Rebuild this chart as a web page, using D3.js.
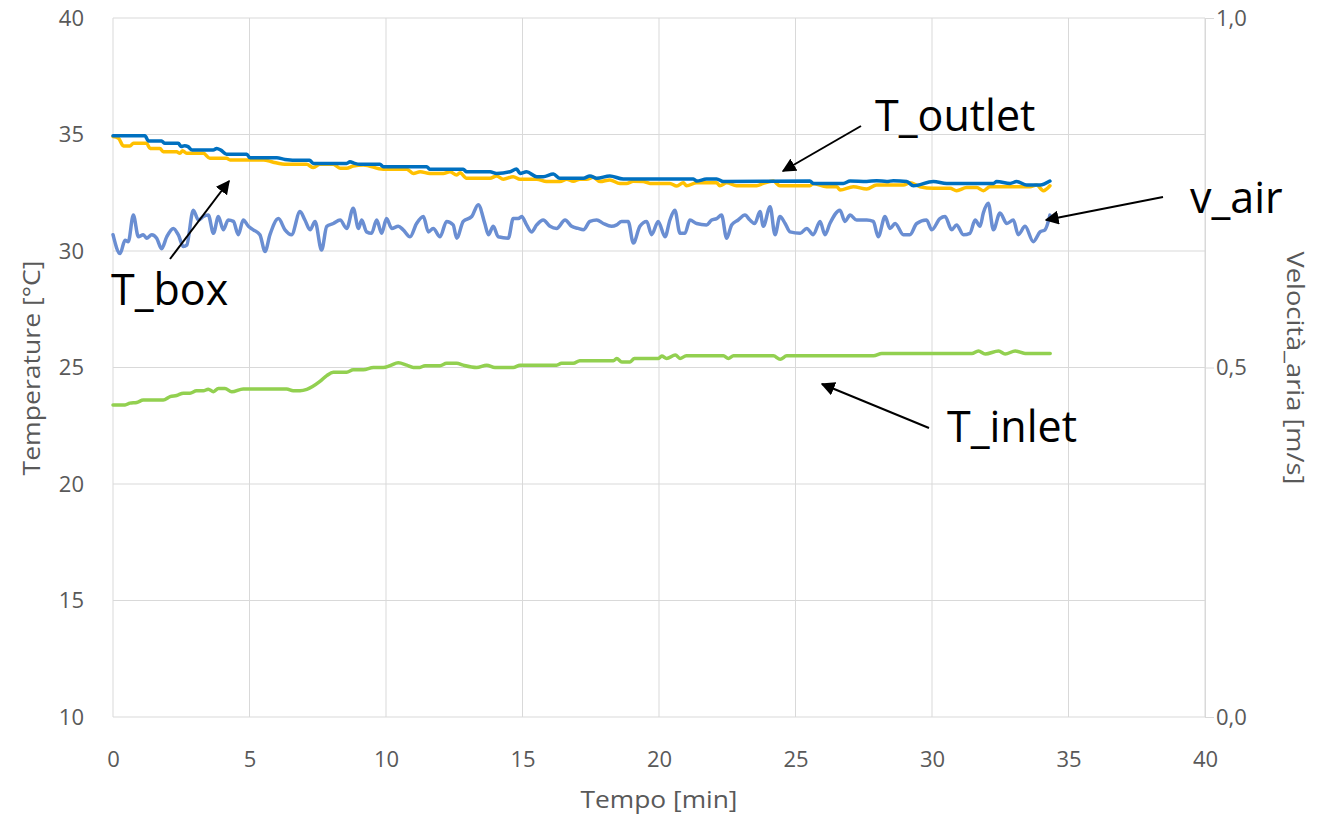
<!DOCTYPE html>
<html><head><meta charset="utf-8">
<script src="https://cdn.jsdelivr.net/npm/d3@7"></script>
<style>body{margin:0;background:#fff}svg{display:block}text{font-family:"Open Sans",Calibri,sans-serif}</style>
</head><body><svg id="c" width="1329" height="821"></svg>
<script>
const xTicks=[0,5,10,15,20,25,30,35,40];
const yLeftTicks=[10,15,20,25,30,35,40];
const yRightTicks=[0,0.5,1.0];

const outletTime=[0,1.17,1.3,1.78,1.9,2.39,2.5,2.62,2.75,2.9,3.67,3.8,3.95,4.16,4.9,5.02,6.0,6.3,6.85,7.2,7.34,8.56,8.68,8.85,9.05,9.78,9.9,11.49,11.6,12.83,12.95,13.81,14.05,14.54,14.78,14.91,15.15,15.52,15.76,16.13,16.37,17.23,17.47,17.72,18.2,18.69,21.26,21.38,21.74,22.11,22.36,25.53,25.65,26.75,27.0,27.61,27.97,28.34,28.58,29.07,29.32,30.05,30.54,32.25,32.37,32.86,33.1,33.47,33.96,34.32];
const outletT=[34.95,34.95,34.72,34.72,34.62,34.62,34.48,34.52,34.48,34.33,34.33,34.40,34.33,34.15,34.15,34.0,34.0,33.93,33.89,33.89,33.76,33.76,33.83,33.76,33.72,33.72,33.62,33.62,33.51,33.51,33.40,33.40,33.33,33.40,33.52,33.33,33.40,33.19,33.19,33.30,33.12,33.12,33.22,33.12,33.22,33.09,33.09,33.0,33.09,33.09,32.98,33.0,32.9,32.9,33.0,32.98,33.02,32.98,33.02,32.98,32.8,32.98,32.9,32.9,32.98,32.9,32.98,32.83,32.83,33.0];

const boxTime=[0,0.2,0.38,0.62,0.75,1.23,1.36,1.72,1.84,2.33,2.45,2.55,2.7,3.31,3.55,4.16,4.29,5.51,5.87,6.36,7.09,7.34,7.58,8.07,8.32,8.56,8.8,9.17,9.9,10.76,11.0,11.25,11.61,12.1,12.34,12.59,12.71,12.95,13.81,14.05,14.3,14.66,14.91,15.52,15.88,16.37,16.62,16.86,17.1,17.35,17.59,17.84,18.2,18.57,18.81,19.06,19.42,19.67,20.4,20.65,20.89,21.01,21.38,22.11,22.23,22.48,22.84,23.58,23.82,24.19,24.43,25.53,25.65,26.14,26.51,26.63,27.12,27.61,27.97,28.95,29.19,29.56,30.05,30.66,30.9,31.27,31.64,31.88,32.12,33.59,33.83,34.08,34.32];
const boxT=[34.91,34.84,34.51,34.51,34.62,34.62,34.40,34.40,34.26,34.26,34.19,34.30,34.19,34.19,33.98,33.98,33.91,33.91,33.81,33.72,33.72,33.58,33.72,33.72,33.55,33.55,33.65,33.69,33.51,33.51,33.33,33.40,33.33,33.33,33.40,33.26,33.36,33.12,33.12,33.22,33.08,33.19,33.08,33.08,32.98,32.98,33.08,32.99,33.08,33.08,33.16,32.98,33.05,32.90,32.90,32.99,32.98,32.90,32.90,32.79,32.93,32.8,32.93,32.93,32.8,32.93,32.8,32.8,32.90,33.0,32.8,32.8,32.9,32.76,32.76,32.62,32.76,32.66,32.83,32.83,32.93,32.76,32.69,32.69,32.59,32.72,32.72,32.59,32.76,32.76,32.83,32.59,32.8];

const inletTime=[0,0.44,0.62,0.87,1.11,1.84,2.09,2.33,2.58,2.82,3.06,3.31,3.49,3.68,3.86,4.1,4.35,4.77,6.36,6.6,6.85,7.1,7.58,7.83,8.07,8.56,8.8,9.17,9.54,9.9,10.15,10.45,10.76,11.0,11.24,11.43,11.98,12.22,12.59,12.83,13.32,13.69,13.99,14.66,14.91,16.25,16.43,16.86,17.1,18.33,18.45,18.64,18.94,19.1,19.98,20.1,20.28,20.6,20.77,21.0,22.36,22.54,22.73,24.19,24.44,24.68,27.86,28.16,31.46,31.7,31.95,32.44,32.68,33.05,33.41,34.33];
const inletT=[23.39,23.39,23.47,23.5,23.6,23.6,23.75,23.8,23.9,23.9,24.0,24.0,24.07,23.96,24.1,24.1,23.96,24.08,24.08,24.0,24.0,24.06,24.4,24.65,24.8,24.8,24.9,24.9,25.0,25.0,25.08,25.2,25.1,25.0,25.0,25.08,25.08,25.18,25.18,25.1,25.0,25.1,25.0,25.0,25.1,25.1,25.18,25.18,25.29,25.29,25.39,25.24,25.24,25.39,25.39,25.49,25.39,25.54,25.39,25.5,25.5,25.39,25.5,25.5,25.35,25.5,25.5,25.6,25.6,25.71,25.58,25.71,25.58,25.71,25.6,25.6];

const airTime=[0.0,0.26,0.44,0.56,0.745,0.93,1.11,1.23,1.42,1.6,1.78,1.97,2.21,2.39,2.58,2.70,2.94,3.13,3.31,3.49,3.68,3.86,4.04,4.22,4.41,4.59,4.77,4.96,5.14,5.38,5.57,5.75,6.06,6.30,6.54,6.85,7.03,7.22,7.40,7.64,7.83,8.07,8.32,8.56,8.80,8.99,9.11,9.29,9.47,9.66,9.84,10.02,10.21,10.45,10.63,10.88,11.12,11.37,11.55,11.73,11.98,12.22,12.46,12.59,12.83,13.14,13.38,13.62,13.75,13.93,14.11,14.48,14.66,14.85,14.97,15.15,15.33,15.52,15.76,16.01,16.25,16.56,16.80,17.04,17.23,17.47,17.72,17.96,18.26,18.45,18.63,18.87,19.06,19.30,19.55,19.73,19.97,20.22,20.40,20.58,20.77,20.95,21.13,21.38,21.74,21.93,22.11,22.29,22.48,22.66,22.90,23.15,23.33,23.51,23.70,23.82,24.07,24.25,24.43,24.62,24.80,25.17,25.41,25.65,25.90,26.08,26.26,26.63,26.81,27.0,27.24,27.61,27.85,28.03,28.28,28.46,28.65,28.95,29.19,29.44,29.80,29.99,30.29,30.48,30.72,30.90,31.15,31.39,31.58,31.76,31.88,32.06,32.25,32.49,32.74,32.98,33.16,33.41,33.71,33.96,34.14,34.32];
const airV=[0.690,0.663,0.682,0.680,0.718,0.687,0.690,0.685,0.690,0.685,0.670,0.687,0.699,0.690,0.673,0.675,0.725,0.711,0.716,0.718,0.692,0.716,0.697,0.711,0.709,0.690,0.711,0.702,0.697,0.690,0.666,0.690,0.713,0.697,0.690,0.723,0.711,0.697,0.709,0.668,0.702,0.706,0.711,0.699,0.728,0.699,0.711,0.694,0.692,0.711,0.692,0.713,0.699,0.702,0.697,0.687,0.706,0.716,0.694,0.699,0.687,0.709,0.704,0.685,0.709,0.716,0.733,0.706,0.690,0.702,0.687,0.685,0.713,0.713,0.716,0.704,0.694,0.704,0.711,0.702,0.699,0.711,0.702,0.699,0.697,0.709,0.711,0.706,0.702,0.704,0.709,0.709,0.678,0.702,0.709,0.690,0.709,0.687,0.711,0.725,0.692,0.692,0.711,0.706,0.704,0.711,0.713,0.718,0.685,0.704,0.711,0.718,0.711,0.706,0.723,0.702,0.730,0.690,0.716,0.706,0.694,0.692,0.699,0.690,0.709,0.690,0.706,0.725,0.709,0.718,0.711,0.711,0.709,0.687,0.716,0.699,0.706,0.690,0.690,0.706,0.711,0.697,0.713,0.716,0.697,0.704,0.690,0.692,0.711,0.702,0.721,0.735,0.697,0.721,0.706,0.711,0.690,0.702,0.680,0.694,0.697,0.718];

const labels=[
 {text:"T_outlet",x:875,y:131,ax:861,ay:126,bx:783,by:171},
 {text:"v_air",x:1190,y:213,ax:1163,ay:197,bx:1046,by:220},
 {text:"T_box",x:111,y:305,ax:170,ay:259,bx:229,by:181},
 {text:"T_inlet",x:947,y:442,ax:929,ay:428,bx:822,by:384}
];

const svg=d3.select("#c");
const x=d3.scaleLinear().domain([0,40]).range([113,1205]);
const yL=d3.scaleLinear().domain([10,40]).range([717,18]);
const yR=d3.scaleLinear().domain([0,1]).range([717,18]);
const grid="#D9D9D9", tc="#595959";
const ff='"Open Sans",sans-serif';

svg.append("g").selectAll("line").data(yLeftTicks).join("line")
 .attr("x1",x(0)).attr("x2",x(40)).attr("y1",d=>yL(d)).attr("y2",d=>yL(d))
 .attr("stroke",grid).attr("stroke-width",1);
svg.append("g").selectAll("line").data(xTicks).join("line")
 .attr("y1",yL(10)).attr("y2",yL(40)).attr("x1",d=>x(d)).attr("x2",d=>x(d))
 .attr("stroke",grid).attr("stroke-width",1);

const gx=svg.append("g").attr("transform",`translate(0,${yL(10)})`)
 .call(d3.axisBottom(x).tickValues(xTicks).tickSize(0).tickPadding(34));
const gl=svg.append("g").attr("transform",`translate(${x(0)},0)`)
 .call(d3.axisLeft(yL).tickValues(yLeftTicks).tickSize(0).tickPadding(29));
const gr=svg.append("g").attr("transform",`translate(${x(40)},0)`)
 .call(d3.axisRight(yR).tickValues(yRightTicks).tickSize(9).tickPadding(2).tickFormat(d=>d3.format(".1f")(d).replace(".",",")));
[gx,gl,gr].forEach(g=>{
 g.select(".domain").attr("stroke",grid);
 g.selectAll(".tick line").attr("stroke",grid);
 g.selectAll("text").attr("fill",tc).attr("font-size",22).attr("font-family",ff);
});
gx.select(".domain").remove();
gl.select(".domain").remove();

svg.append("text").attr("x",659).attr("y",808).attr("text-anchor","middle").attr("font-size",23).attr("font-family",ff).attr("fill",tc)
 .attr("textLength",157).attr("lengthAdjust","spacingAndGlyphs").text("Tempo [min]");
svg.append("text").attr("transform","translate(40,368) rotate(-90)").attr("text-anchor","middle").attr("font-size",23).attr("font-family",ff).attr("fill",tc)
 .attr("textLength",215).attr("lengthAdjust","spacingAndGlyphs").text("Temperature [°C]");
svg.append("text").attr("transform","translate(1287,368) rotate(90)").attr("text-anchor","middle").attr("font-size",23).attr("font-family",ff).attr("fill",tc)
 .attr("textLength",233).attr("lengthAdjust","spacingAndGlyphs").text("Velocità_aria [m/s]");

function drawLine(t,v,scale,color){
 const pts=t.map((d,i)=>[d,v[i]]);
 svg.append("path").datum(pts)
  .attr("d",d3.line().x(d=>x(d[0])).y(d=>scale(d[1])).curve(d3.curveMonotoneX))
  .attr("fill","none").attr("stroke",color).attr("stroke-width",3.5).attr("stroke-linejoin","round").attr("stroke-linecap","round");
}
drawLine(inletTime,inletT,yL,"#92D050");
drawLine(airTime,airV,yR,"#6A8ED2");
drawLine(boxTime,boxT,yL,"#FFC000");
drawLine(outletTime,outletT,yL,"#0070C0");

svg.append("defs").append("marker").attr("id","ah").attr("viewBox","0 0 10 10").attr("refX",9).attr("refY",5)
 .attr("markerWidth",7).attr("markerHeight",7).attr("orient","auto").attr("markerUnits","strokeWidth")
 .append("path").attr("d","M0,0L10,5L0,10z").attr("fill","#000");
const ga=svg.append("g");
ga.selectAll("line").data(labels).join("line")
 .attr("x1",d=>d.ax).attr("y1",d=>d.ay).attr("x2",d=>d.bx).attr("y2",d=>d.by)
 .attr("stroke","#000").attr("stroke-width",2).attr("marker-end","url(#ah)");
ga.selectAll("text").data(labels).join("text")
 .attr("x",d=>d.x).attr("y",d=>d.y).attr("font-size",43).attr("font-family",ff).attr("fill","#000").text(d=>d.text);
</script></body></html>
